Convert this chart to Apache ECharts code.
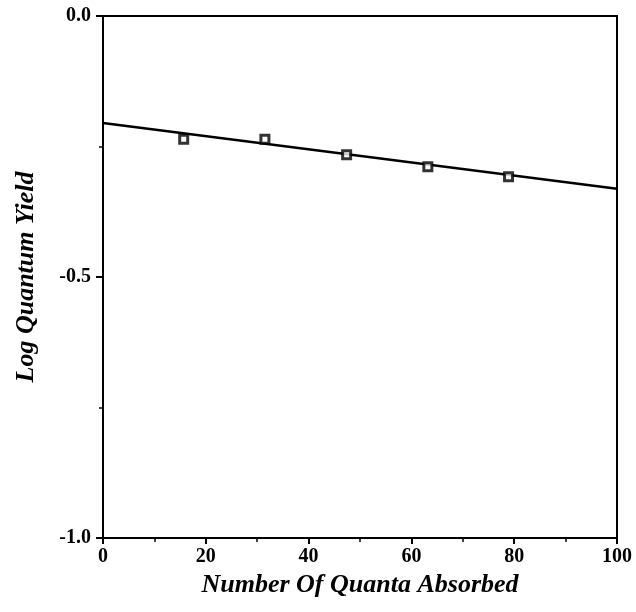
<!DOCTYPE html>
<html>
<head>
<meta charset="utf-8">
<script src="https://cdn.jsdelivr.net/npm/echarts@6/dist/echarts.min.js"></script>
<style>
  html, body { margin: 0; padding: 0; background: #fff; }
  #chart { width: 636px; height: 612px; }
</style>
</head>
<body>
<div id="chart"></div>
<script>
// measured points
var quanta = [15.7, 31.5, 47.4, 63.2, 78.9];
var logYield = [-0.236, -0.236, -0.266, -0.289, -0.308];

// fitted line end points
var fitX = [0, 100];
var fitY = [-0.205, -0.331];

var fontFam = '"Liberation Serif", "Times New Roman", serif';

var pts = [], fit = [], i;
for (i = 0; i < quanta.length; i++) {
    pts.push([quanta[i], logYield[i]]);
}
for (i = 0; i < fitX.length; i++) {
    fit.push([fitX[i], fitY[i]]);
}

var chart = echarts.init(document.getElementById('chart'));
var option = {
    backgroundColor: '#fff',
    animation: false,
    grid: {
        left: 103, right: 19, top: 16, bottom: 74,
        show: true,
        borderColor: '#000',
        borderWidth: 2
    },
    xAxis: {
        type: 'value',
        min: 0, max: 100, interval: 20,
        name: 'Number Of Quanta Absorbed',
        nameLocation: 'middle',
        nameGap: 28,
        nameTextStyle: { fontFamily: fontFam, fontWeight: 'bold', fontStyle: 'italic', fontSize: 26, color: '#000' },
        axisLine: { onZero: false, lineStyle: { color: '#000', width: 2 } },
        axisTick: { length: 6, lineStyle: { color: '#000', width: 2 } },
        minorTick: { show: true, splitNumber: 2, length: 4, lineStyle: { color: '#000', width: 1.5 } },
        splitLine: { show: false },
        axisLabel: { fontFamily: fontFam, fontWeight: 'bold', fontSize: 20, color: '#000', margin: 9 }
    },
    yAxis: {
        type: 'value',
        min: -1, max: 0, interval: 0.5,
        name: 'Log Quantum Yield',
        nameLocation: 'middle',
        nameGap: 64,
        nameTextStyle: { fontFamily: fontFam, fontWeight: 'bold', fontStyle: 'italic', fontSize: 26, color: '#000' },
        axisLine: { onZero: false, lineStyle: { color: '#000', width: 2 } },
        axisTick: { length: 7, lineStyle: { color: '#000', width: 2 } },
        minorTick: { show: true, splitNumber: 2, length: 4, lineStyle: { color: '#000', width: 1.5 } },
        splitLine: { show: false },
        axisLabel: {
            fontFamily: fontFam, fontWeight: 'bold', fontSize: 20, color: '#000', margin: 12,
            formatter: function (v) { return v.toFixed(1); }
        }
    },
    series: [
        {
            name: 'fit',
            type: 'line',
            data: fit,
            symbol: 'none',
            lineStyle: { color: '#000', width: 2.5 },
            z: 2
        },
        {
            name: 'data',
            type: 'scatter',
            data: pts,
            symbol: 'rect',
            symbolSize: 8,
            itemStyle: { color: '#fff', borderColor: '#000', borderWidth: 3 },
            z: 3
        }
    ]
};
chart.setOption(option);
</script>
</body>
</html>
